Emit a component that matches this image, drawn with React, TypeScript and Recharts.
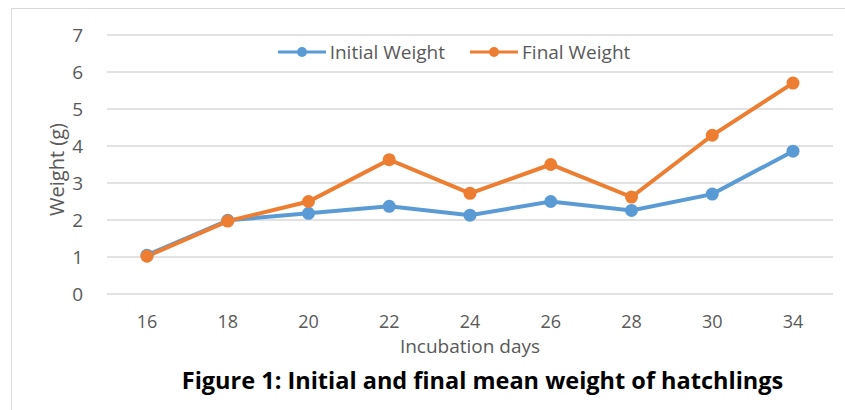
import { CartesianGrid, Legend, Line, LineChart, XAxis, YAxis } from "recharts";

const days = ["16", "18", "20", "22", "24", "26", "28", "30", "34"];
const initialWeight = [1.05, 1.99, 2.18, 2.37, 2.13, 2.5, 2.26, 2.7, 3.86];
const finalWeight = [1.02, 1.97, 2.5, 3.63, 2.72, 3.5, 2.62, 4.29, 5.7];
const yTicks = [0, 1, 2, 3, 4, 5, 6, 7];
const seriesOrder = ["Initial Weight", "Final Weight"];

const BLUE = "#5b9bd5";
const ORANGE = "#ed7d31";
const TEXT = "#595959";
const FONT = "'Open Sans', sans-serif";

const data = days.map((d, i) => ({ day: d, initial: initialWeight[i], final: finalWeight[i] }));

function LegendContent({ payload }: any) {
  const items = [...(payload || [])].sort((a: any, b: any) => seriesOrder.indexOf(a.value) - seriesOrder.indexOf(b.value));
  return (
    <div style={{ display: "flex", justifyContent: "center", alignItems: "center", gap: 25, paddingLeft: 63 }}>
      {items.map((p: any) => (
        <div key={p.value} style={{ display: "flex", alignItems: "center" }}>
          <svg width={48} height={14}>
            <line x1={0} y1={7} x2={48} y2={7} stroke={p.color} strokeWidth={3} />
            <circle cx={24} cy={7} r={5} fill={p.color} />
          </svg>
          <span style={{ marginLeft: 4, fontFamily: FONT, fontSize: 19, color: TEXT }}>{p.value}</span>
        </div>
      ))}
    </div>
  );
}

export default function App() {
  return (
    <div style={{ position: "absolute", left: 0, top: 0, width: 845, height: 410, overflow: "hidden", background: "#fff" }}>
      <div
        style={{ position: "absolute", left: 11, top: 8, width: 860, height: 430, border: "1px solid #d9d9d9", boxSizing: "border-box" }}
      />
      <LineChart width={845} height={410} data={data} margin={{ top: 35, right: 12, left: 37, bottom: 56 }}>
        <CartesianGrid vertical={false} stroke="#d9d9d9" strokeWidth={1.5} />
        <XAxis
          dataKey="day"
          axisLine={false}
          tickLine={false}
          height={60}
          tickMargin={15}
          padding={{ left: 40, right: 40 }}
          tick={{ fill: TEXT, fontSize: 18, fontFamily: FONT }}
          label={{ value: "Incubation days", position: "insideBottom", offset: 1, fill: TEXT, fontSize: 19, fontFamily: FONT }}
        />
        <YAxis
          width={70}
          domain={[0, 7]}
          ticks={yTicks}
          axisLine={false}
          tickLine={false}
          tickMargin={18}
          tick={{ fill: TEXT, fontSize: 19, fontFamily: FONT }}
          label={{
            value: "Weight (g)",
            angle: -90,
            position: "insideLeft",
            offset: 20,
            dy: 5,
            fill: TEXT,
            fontSize: 20,
            fontFamily: FONT,
            style: { textAnchor: "middle" },
          }}
        />
        <Legend verticalAlign="middle" content={<LegendContent />} wrapperStyle={{ top: 39, left: 0, width: 845 }} />
        <Line
          name="Initial Weight"
          dataKey="initial"
          stroke={BLUE}
          strokeWidth={4}
          dot={{ r: 6.5, fill: BLUE, stroke: BLUE, strokeWidth: 0 }}
          isAnimationActive={false}
        />
        <Line
          name="Final Weight"
          dataKey="final"
          stroke={ORANGE}
          strokeWidth={4}
          dot={{ r: 6.5, fill: ORANGE, stroke: ORANGE, strokeWidth: 0 }}
          isAnimationActive={false}
        />
      </LineChart>
      <div
        style={{
          position: "absolute",
          left: 0,
          width: 965,
          top: 364,
          textAlign: "center",
          fontFamily: FONT,
          fontWeight: 700,
          fontSize: 23.5,
          color: "#000",
        }}
      >
        Figure 1: Initial and final mean weight of hatchlings
      </div>
    </div>
  );
}
